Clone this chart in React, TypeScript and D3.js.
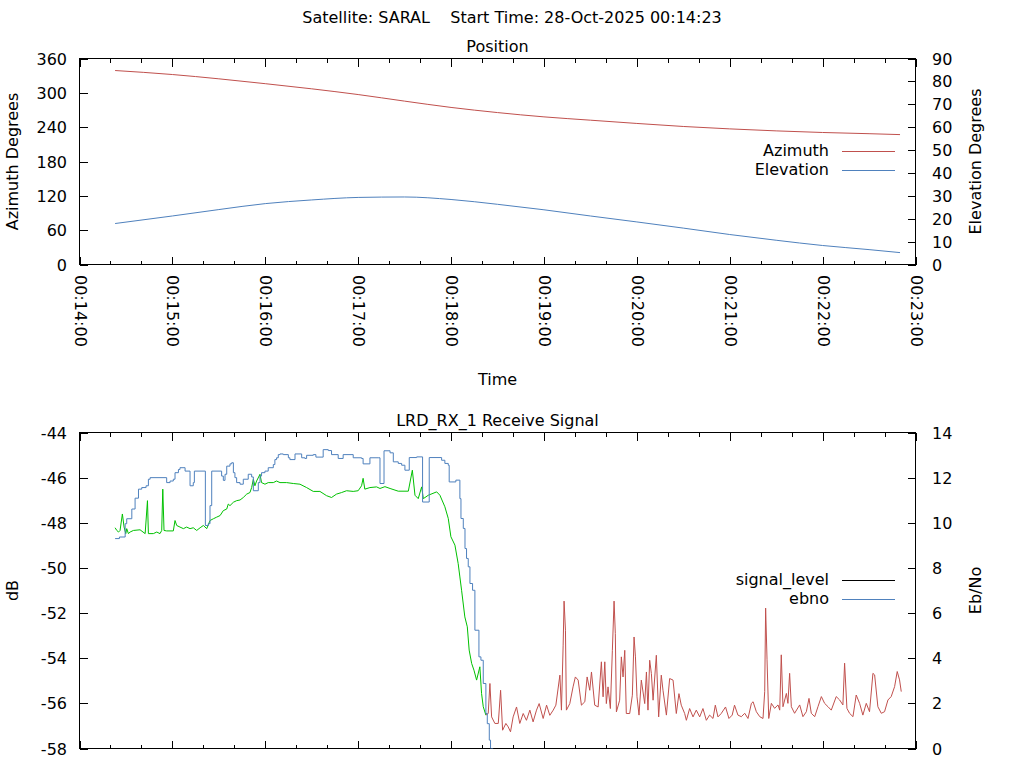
import { useEffect, useRef } from 'react';
import * as d3 from 'd3';

const satellite = 'SARAL';
const startTime = '28-Oct-2025 00:14:23';
const axisStart = '00:14:00';
const axisEnd = '00:23:00';

// position samples
const posTimes = ['00:14:23', '00:15:00', '00:15:30', '00:16:00', '00:16:30', '00:17:00', '00:17:30', '00:18:00', '00:18:30',
  '00:19:00', '00:19:30', '00:20:00', '00:20:30', '00:21:00', '00:21:30', '00:22:00', '00:22:30', '00:22:50'];
const azimuth = [339, 332, 324.5, 316, 307, 297, 285.5, 274.5, 265.5, 258, 252.2, 246.5, 241.2, 237, 233.5, 230.7, 228.6, 227];
const elevation = [17.9, 21.2, 24.0, 26.6, 28.2, 29.3, 29.5, 28.4, 26.3, 23.9, 21.2, 18.6, 15.9, 13.1, 10.6, 8.3, 6.5, 5.2];

// signal level while locked (seconds after 00:14:00, dB)
const lockedSec = [23.0, 24.1, 25.2, 26.2, 27.7, 28.8, 29.9, 30.5, 31.6, 32.7, 34.8, 39.1, 42.4, 43.9, 44.5, 47.7, 49.9, 52.0, 53.1, 53.8,
  54.6, 56.3, 60.6, 61.7, 62.8, 64.9, 67.1, 69.2, 71.4, 73.5, 75.7, 77.9, 80.0, 82.2, 84.3, 86.5, 88.6, 90.8, 92.9, 95.1,
  96.1, 97.2, 99.4, 101.5, 103.7, 105.8, 108.0, 110.1, 111.2, 112.3, 113.3, 114.4, 116.6, 117.6, 119.8, 121.9, 125.2, 127.3, 129.5, 133.8,
  138.1, 142.4, 146.7, 151.0, 155.3, 159.6, 162.8, 166.0, 169.3, 172.5, 176.8, 180.0, 182.2, 183.2, 184.3, 187.6, 191.9,
  194.1, 197.3, 200.6, 205.9, 212.4, 215.0, 216.7, 218.8, 221.0, 222.1, 225.3, 230.7, 232.8, 236.0, 238.2, 239.9, 242.5, 244.6,
  245.7, 246.8, 248.9, 250.5, 251.7, 253.3, 254.8, 256.5, 258.6, 259.7, 260.8, 262.5];
const lockedDb = [-48.22, -48.34, -48.41, -48.34, -47.61, -48.19, -48.48, -48.26, -48.48, -48.41, -48.34, -48.31, -48.48, -47.02, -48.48, -48.48, -48.41, -48.48, -48.34, -46.51,
  -48.34, -48.36, -48.36, -47.90, -48.12, -48.19, -48.26, -48.19, -48.26, -48.22, -48.34, -48.22, -48.12, -48.26, -47.90, -47.82, -47.75, -47.68, -47.46, -47.39,
  -47.17, -47.24, -47.09, -47.02, -46.99, -46.88, -46.73, -46.66, -46.44, -46.07, -46.36, -46.15, -45.85, -46.22, -46.29, -46.22, -46.22, -46.15, -46.22, -46.22,
  -46.26, -46.29, -46.44, -46.61, -46.61, -46.80, -46.88, -46.73, -46.66, -46.58, -46.61, -46.58, -46.36, -46.03, -46.51, -46.44, -46.41,
  -46.48, -46.40, -46.48, -46.60, -46.60, -45.67, -46.78, -46.93, -46.41, -46.93, -46.78, -46.63, -46.78, -47.29, -47.81, -48.62, -48.99, -49.81,
  -50.40, -50.99, -52.17, -52.61, -53.64, -54.23, -54.53, -54.97, -54.38, -55.56, -56.15, -56.52];

// signal level after loss of lock
const unlockedSec = [264.0, 265.1, 266.2, 268.3, 270.5, 272.0, 273.3, 275.4, 276.9, 278.4, 280.1, 282.3, 284.4, 286.6, 288.7, 290.9, 293.0, 295.2, 296.9, 299.5,
  301.7, 303.8, 306.0, 307.7, 310.3, 311.3,
  312.4, 313.0, 313.9, 314.5, 316.7, 318.8, 320.3, 322.1, 324.2, 326.4, 327.9, 329.6, 330.7, 332.8, 335.0, 337.1, 338.2, 339.3, 340.3, 341.4,
  342.9, 344.2, 345.3, 346.1, 346.8, 348.9, 350.0, 351.1, 352.2, 353.2, 355.4, 357.1, 358.2, 359.1, 360.1, 361.4, 362.9, 365.1, 366.2, 367.2,
  368.3, 369.4, 370.5, 372.6, 374.1, 375.8, 376.9, 379.1, 381.2, 383.4, 385.5, 387.2, 388.7, 390.9, 392.0, 394.1, 396.3, 398.4, 400.6, 402.7,
  404.9, 407.0, 409.2, 410.7, 412.4, 414.5, 417.3, 419.5, 421.6, 423.1, 425.3,
  427.5, 429.7, 431.8, 434.0, 435.1, 437.2, 439.4, 441.5, 442.6, 443.2, 444.1, 445.2, 446.9, 449.0, 451.2, 452.3, 453.3, 454.4, 456.6, 457.6,
  458.7, 459.8, 461.9, 465.2, 467.3, 469.5, 471.2, 472.7, 474.9, 477.0, 479.2, 481.3, 483.5, 485.6, 488.8, 491.0, 493.1, 494.2, 495.7, 497.4,
  499.6, 501.7, 503.9, 506.0, 508.2, 510.3, 512.5, 513.6, 515.7, 517.9, 520.0, 522.2, 524.3, 526.5, 528.2, 529.7, 530.8];
const unlockedDb = [-56.45, -55.12, -56.60, -56.89, -56.89, -55.42, -57.19, -56.89, -57.04, -57.26, -56.60, -56.16, -56.89, -56.45, -56.75, -56.30, -56.82, -56.30, -56.01, -56.67,
  -56.08, -56.53, -56.30, -56.08, -54.75, -56.30,
  -53.42, -51.47, -52.76, -56.30, -56.01, -55.27, -54.83, -54.97, -56.08, -55.93, -54.83, -55.42, -54.61, -56.08, -56.16, -54.16, -55.71, -54.16, -56.01, -55.27,
  -56.23, -53.65, -51.47, -52.91, -56.38, -55.86, -53.94, -54.83, -53.65, -56.45, -56.45, -55.64, -53.06, -53.94, -55.71, -56.52, -54.97, -56.01, -54.61, -56.30,
  -54.09, -54.68, -55.86, -53.87, -56.60, -54.75, -55.42, -56.52, -54.90, -54.97, -56.45, -55.57, -56.08, -56.45, -56.75, -56.23, -56.60, -56.30, -56.60, -56.23,
  -56.75, -56.52, -56.67, -56.08, -56.60, -56.45, -56.16, -56.67, -56.52, -56.08, -56.52,
  -56.59, -56.44, -56.67, -56.00, -55.93, -56.37, -56.59, -56.67, -55.48, -51.78, -54.07, -56.67, -56.00, -56.22, -56.07, -56.30, -53.85, -56.15, -55.56, -56.00,
  -54.67, -56.15, -56.44, -56.07, -56.59, -56.37, -55.78, -56.44, -56.59, -56.15, -55.70, -56.00, -56.15, -56.30, -55.70, -55.85, -56.07, -54.22, -56.22, -56.44,
  -56.59, -55.63, -56.00, -56.52, -56.00, -56.37, -54.67, -54.74, -56.15, -56.44, -56.37, -55.85, -55.70, -55.26, -54.59, -54.96, -55.48];

// Eb/No steps
const ebnoSec = [23.0, 25.8, 29.5, 30.5, 33.8, 35.9, 38.1, 40.2, 43.0, 44.5, 45.6, 56.3, 58.5, 60.6, 61.7, 63.9, 64.9, 68.2, 71.4, 73.5,
  74.2, 81.3, 83.2, 84.3, 85.4, 91.8, 92.9, 94.0, 95.1, 97.2, 98.3, 99.4, 100.4, 101.5, 103.7, 105.8, 109.0, 111.2, 112.3, 115.5,
  116.6, 117.6, 119.8, 121.9, 125.2, 126.2, 127.3, 128.4, 129.5, 131.6, 134.9, 135.9, 139.2, 143.5, 145.6, 146.7, 151.0, 152.7, 157.4, 160.7,
  162.8, 167.1, 170.3, 176.8, 182.2, 183.2, 187.6, 192.9, 194.1, 196.7, 200.6, 202.7, 205.9, 208.1, 210.2, 213.0, 217.8, 221.6, 225.9, 233.9,
  236.0, 238.2, 238.8, 243.1, 245.7, 246.4, 247.9, 249.0, 250.0, 251.1, 252.2, 253.9, 255.4, 258.0, 259.3, 260.8, 262.5, 263.4, 264.7, 265.5, 267.0];
const ebnoVal = [9.30, 9.37, 9.96, 10.18, 10.61, 11.09, 11.49, 11.56, 11.64, 11.93, 12.00, 11.78, 11.85, 11.93, 12.22, 12.36, 12.44, 12.29, 11.64, 11.78,
  12.29, 9.88, 9.96, 10.76, 12.29, 12.07, 11.88, 12.15, 12.51, 12.61, 12.66, 12.22, 12.00, 11.78, 11.71, 11.93, 12.15, 12.03, 11.42, 11.78,
  12.07, 12.22, 12.29, 12.44, 12.58, 12.80, 12.88, 13.02, 13.05, 13.02, 12.88, 12.80, 13.05, 12.88, 12.85, 12.99, 13.02, 12.91, 13.24, 13.20,
  13.02, 12.85, 13.02, 12.88, 12.85, 12.61, 12.88, 12.88, 11.74, 13.19, 13.10, 12.70, 12.63, 12.55, 12.33, 12.89, 12.92, 10.92, 12.89, 12.77,
  12.63, 12.55, 11.81, 11.89, 11.07, 10.19, 9.75, 8.86, 8.42, 8.05, 7.31, 7.01, 5.24, 4.06, 3.91, 2.88, 1.55, 1.10, 0.37, 0.0, -1.0];

const azTicks = [0, 60, 120, 180, 240, 300, 360];
const elTicks = [0, 10, 20, 30, 40, 50, 60, 70, 80, 90];
const dbTicks = [-58, -56, -54, -52, -50, -48, -46, -44];
const ebTicks = [0, 2, 4, 6, 8, 10, 12, 14];

const FONT = '"DejaVu Sans", sans-serif';
const RED = '#c0504d';
const BLUE = '#4f81bd';
const GREEN = '#00c000';

const App = () => {
  const svgRef = useRef<SVGSVGElement>(null);

  useEffect(() => {
    if (!svgRef.current) return;
    const svg = d3.select(svgRef.current);
    svg.selectAll('*').remove();

    svg.append('rect').attr('width', 1024).attr('height', 768).attr('fill', '#fff');

    const parse = d3.timeParse('%H:%M:%S');
    const t0 = parse(axisStart)!;
    const t1 = parse(axisEnd)!;
    const bySec = (s: number) => new Date(+t0 + s * 1000);

    const left = 79.5, right = 915.5;
    const x = d3.scaleTime().domain([t0, t1]).range([left, right]);
    const majors = x.ticks(d3.timeMinute.every(1)!);
    const minors = x.ticks(d3.timeSecond.every(20)!);

    const label = (sel: any) => sel.attr('font-family', FONT).attr('font-size', 16).attr('fill', '#000');

    svg.append('text').call(label)
      .attr('x', 512).attr('y', 23).attr('text-anchor', 'middle')
      .attr('xml:space', 'preserve').style('white-space', 'pre')
      .text(`Satellite: ${satellite}    Start Time: ${startTime}`);

    function frame(top: number, bottom: number, yL: any, yR: any, lTicks: number[], rTicks: number[], title: string, lTitle: string, rTitle: string) {
      const g = svg.append('g');
      const tk = g.append('g').attr('stroke', '#000').attr('stroke-width', 1).attr('shape-rendering', 'crispEdges');
      minors.forEach(d => {
        const len = majors.some(m => +m === +d) ? 8 : 4;
        const px = Math.round(x(d)) + 0.5;
        tk.append('line').attr('x1', px).attr('x2', px).attr('y1', bottom).attr('y2', bottom - len);
        tk.append('line').attr('x1', px).attr('x2', px).attr('y1', top).attr('y2', top + len);
      });
      lTicks.forEach(v => {
        const py = Math.round(yL(v)) + 0.5;
        tk.append('line').attr('x1', left).attr('x2', left + 8).attr('y1', py).attr('y2', py);
        g.append('text').call(label).attr('x', 67).attr('y', py).attr('dy', '0.35em')
          .attr('text-anchor', 'end').text(String(v));
      });
      rTicks.forEach(v => {
        const py = Math.round(yR(v)) + 0.5;
        tk.append('line').attr('x1', right).attr('x2', right - 8).attr('y1', py).attr('y2', py);
        g.append('text').call(label).attr('x', 932).attr('y', py).attr('dy', '0.35em')
          .attr('text-anchor', 'start').text(String(v));
      });
      tk.append('rect').attr('x', left).attr('y', top).attr('width', right - left).attr('height', bottom - top)
        .attr('fill', 'none');
      g.append('text').call(label).attr('x', (left + right) / 2).attr('y', top - 7)
        .attr('text-anchor', 'middle').text(title);
      const mid = (top + bottom) / 2;
      g.append('text').call(label).attr('transform', `translate(18,${mid}) rotate(-90)`)
        .attr('text-anchor', 'middle').text(lTitle);
      g.append('text').call(label).attr('transform', `translate(981,${mid}) rotate(-90)`)
        .attr('text-anchor', 'middle').text(rTitle);
    }

    function legend(y: number, items: [string, string][]) {
      items.forEach(([name, color], i) => {
        const ly = y + i * 19;
        svg.append('text').call(label).attr('x', 829).attr('y', ly + 5).attr('text-anchor', 'end').text(name);
        svg.append('line').attr('x1', 842).attr('x2', 895).attr('y1', ly + 0.5).attr('y2', ly + 0.5)
          .attr('stroke', color).attr('stroke-width', 1);
      });
    }

    // ---- Position chart ----
    const pTop = 58.5, pBottom = 264.5;
    const yAz = d3.scaleLinear().domain([0, 360]).range([pBottom, pTop]);
    const yEl = d3.scaleLinear().domain([0, 90]).range([pBottom, pTop]);
    frame(pTop, pBottom, yAz, yEl, azTicks, elTicks, 'Position', 'Azimuth Degrees', 'Elevation Degrees');

    const fmt = d3.timeFormat('%H:%M:%S');
    majors.forEach(d => {
      svg.append('text').call(label)
        .attr('transform', `translate(${Math.round(x(d)) + 0.5},275) rotate(90)`)
        .attr('dy', '0.35em').attr('text-anchor', 'start').text(fmt(d));
    });
    svg.append('text').call(label).attr('x', (left + right) / 2).attr('y', 385)
      .attr('text-anchor', 'middle').text('Time');

    const azLine = d3.line<number>().x((_, i) => x(parse(posTimes[i])!)).y(d => yAz(d)).curve(d3.curveMonotoneX);
    const elLine = d3.line<number>().x((_, i) => x(parse(posTimes[i])!)).y(d => yEl(d)).curve(d3.curveMonotoneX);
    svg.append('path').attr('d', azLine(azimuth)).attr('fill', 'none').attr('stroke', RED).attr('stroke-width', 1);
    svg.append('path').attr('d', elLine(elevation)).attr('fill', 'none').attr('stroke', BLUE).attr('stroke-width', 1);
    legend(151, [['Azimuth', RED], ['Elevation', BLUE]]);

    // ---- Receive signal chart ----
    const sTop = 432.5, sBottom = 748.5;
    const yDb = d3.scaleLinear().domain([-58, -44]).range([sBottom, sTop]);
    const yEb = d3.scaleLinear().domain([0, 14]).range([sBottom, sTop]);
    frame(sTop, sBottom, yDb, yEb, dbTicks, ebTicks, 'LRD_RX_1 Receive Signal', 'dB', 'Eb/No');

    svg.append('clipPath').attr('id', 'sigclip').append('rect')
      .attr('x', left).attr('y', sTop).attr('width', right - left).attr('height', sBottom - sTop);
    const plot = svg.append('g').attr('clip-path', 'url(#sigclip)');

    const sigLine = d3.line<[number, number]>().x(d => x(bySec(d[0]))).y(d => yDb(d[1]));
    const locked = lockedSec.map((s, i) => [s, lockedDb[i]] as [number, number]);
    const unlocked = [locked[locked.length - 1], ...unlockedSec.map((s, i) => [s, unlockedDb[i]] as [number, number])];
    plot.append('path').attr('d', sigLine(locked)).attr('fill', 'none').attr('stroke', GREEN).attr('stroke-width', 1);
    plot.append('path').attr('d', sigLine(unlocked)).attr('fill', 'none').attr('stroke', RED).attr('stroke-width', 1);

    const ebLine = d3.line<[number, number]>().x(d => x(bySec(d[0]))).y(d => yEb(d[1])).curve(d3.curveStepAfter);
    const ebno = ebnoSec.map((s, i) => [s, ebnoVal[i]] as [number, number]);
    plot.append('path').attr('d', ebLine(ebno)).attr('fill', 'none').attr('stroke', BLUE).attr('stroke-width', 1);

    legend(580, [['signal_level', '#000'], ['ebno', BLUE]]);
  }, []);

  return (
    <svg ref={svgRef} width={1024} height={768}
      style={{ position: 'absolute', left: 0, top: 0, display: 'block' }} />
  );
};

export default App;
